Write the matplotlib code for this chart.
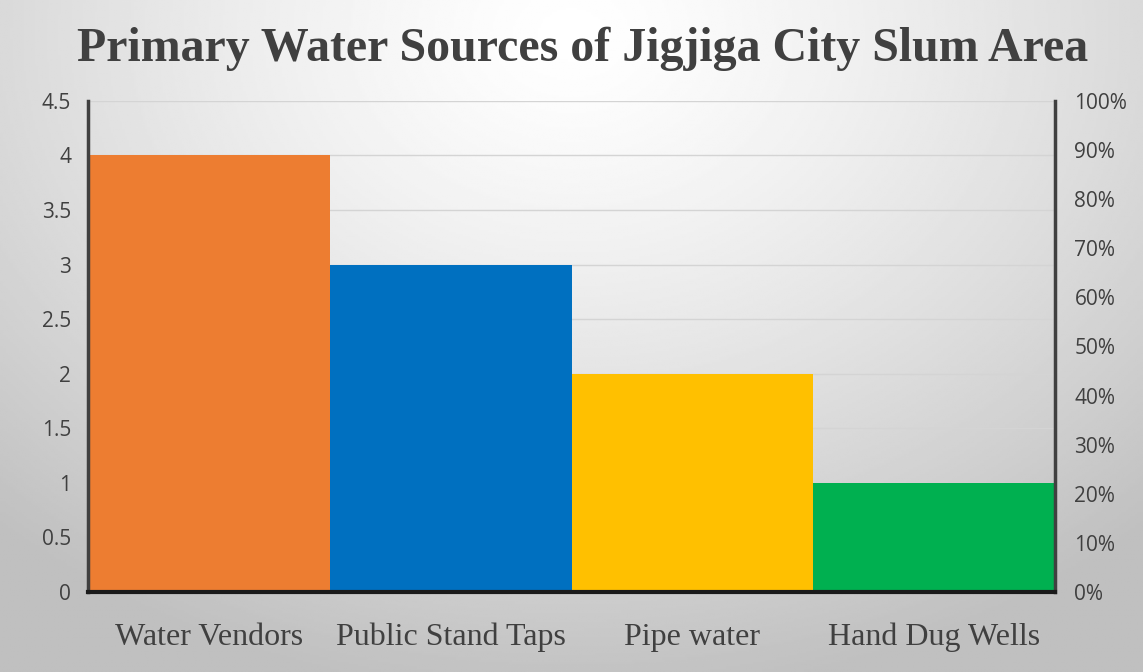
import matplotlib
matplotlib.use('Agg')
import matplotlib.pyplot as plt
from matplotlib.ticker import MultipleLocator, PercentFormatter
import numpy as np

# --- data ---
categories = ['Water Vendors', 'Public Stand Taps', 'Pipe water', 'Hand Dug Wells']
counts = [4, 3, 2, 1]
bar_colors = ['#ED7D31', '#0070C0', '#FFC000', '#00B050']
title = 'Primary Water Sources of Jigjiga City Slum Area'

fig = plt.figure(figsize=(11.43, 6.72), dpi=100)

# radial gradient background, light at top centre, grey at the edges
bg = fig.add_axes([0, 0, 1, 1], zorder=-10)
yy, xx = np.mgrid[0:1:300j, 0:1:500j]
r = np.sqrt(((xx - 0.5) / 0.75) ** 2 + ((yy - 0.05) / 1.0) ** 2)
shade = 1.0 - 0.25 * np.clip(r, 0, 1) ** 1.3
bg.imshow(shade, cmap='gray', vmin=0, vmax=1, aspect='auto', extent=[0, 1, 1, 0])
bg.axis('off')

ax = fig.add_axes([0.077, 0.119, 0.846, 0.731])
ax.patch.set_alpha(0)
x = np.arange(len(categories))
ax.bar(x, counts, width=1.0, color=bar_colors, zorder=3)
ax.set_xlim(-0.5, len(categories) - 0.5)
ax.set_ylim(0, 4.5)
ax.set_yticks(np.arange(0, 4.51, 0.5))
ax.set_yticklabels(['0', '0.5', '1', '1.5', '2', '2.5', '3', '3.5', '4', '4.5'])
ax.grid(axis='y', color='#d4d4d4', linewidth=1, zorder=0)
ax.set_xticks(x)
ax.set_xticklabels(categories, family='Liberation Serif', fontsize=23, color='#404040')
ax.tick_params(axis='x', length=0, pad=22)
ax.tick_params(axis='y', length=0, pad=12, labelsize=15, labelcolor='#404040')
for lbl in ax.get_yticklabels():
    lbl.set_family('Open Sans')

ax.spines['top'].set_visible(False)
ax.spines['left'].set_color('#404040')
ax.spines['left'].set_linewidth(2.5)
ax.spines['bottom'].set_color('#1a1a1a')
ax.spines['bottom'].set_linewidth(3)
ax.spines['right'].set_color('#404040')
ax.spines['right'].set_linewidth(2.5)
for s in ax.spines.values():
    s.set_zorder(5)

ax2 = ax.twinx()
ax2.set_ylim(0, 1)
ax2.yaxis.set_major_locator(MultipleLocator(0.1))
ax2.yaxis.set_major_formatter(PercentFormatter(1.0, decimals=0))
ax2.tick_params(axis='y', length=0, pad=14, labelsize=15, labelcolor='#404040')
for lbl in ax2.get_yticklabels():
    lbl.set_family('Open Sans')
for s in ax2.spines.values():
    s.set_visible(False)

fig.text(0.51, 0.928, title, ha='center', va='center', family='Liberation Serif',
         fontweight='bold', fontsize=34.5, color='#404040')

plt.savefig('out.png', dpi=100)
plt.close(fig)
